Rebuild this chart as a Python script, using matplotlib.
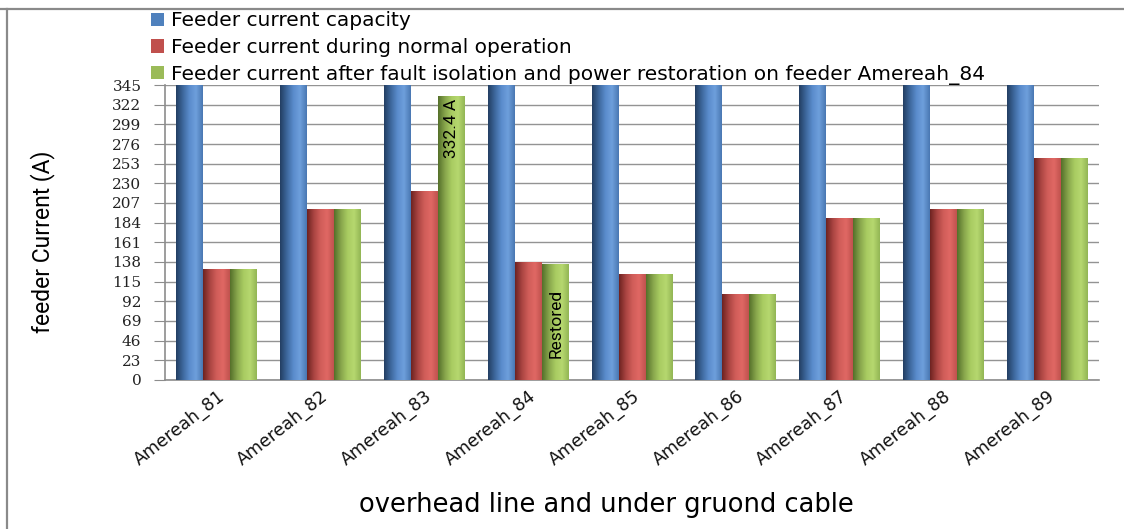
import matplotlib
matplotlib.use("Agg")
import matplotlib.pyplot as plt
import numpy as np
from matplotlib.colors import LinearSegmentedColormap
from matplotlib.patches import Patch
from matplotlib.lines import Line2D

feeders = ["Amereah_81", "Amereah_82", "Amereah_83", "Amereah_84", "Amereah_85",
           "Amereah_86", "Amereah_87", "Amereah_88", "Amereah_89"]
capacity = [345, 345, 345, 345, 345, 345, 345, 345, 345]
normal_op = [130, 200, 221, 138, 124, 100, 190, 200, 260]
after_restoration = [130, 200, 332.4, 136, 124, 100, 190, 200, 260]
y_ticks = list(range(0, 346, 23))

series_labels = ["Feeder current capacity",
                 "Feeder current during normal operation",
                 "Feeder current after fault isolation and power restoration on feeder Amereah_84"]
base_colors = ["#4f81bd", "#c0504d", "#9bbb59"]
gradients = [
    ["#233f63", "#3d679c", "#5a8ccc", "#6e9fdc", "#4a78b2"],
    ["#6e2321", "#a94441", "#d05d59", "#e06864", "#c0524e"],
    ["#55702a", "#86a44b", "#a8cb61", "#b6d86f", "#93b655"],
]

fig = plt.figure(figsize=(11.24, 5.29), dpi=100)
ax = fig.add_axes([0.1468, 0.2817, 0.8310, 0.5576])

x = np.arange(len(feeders))
w = 0.26
offsets = [-w, 0, w]
all_series = [capacity, normal_op, after_restoration]

for vals, off, grad, col in zip(all_series, offsets, gradients, base_colors):
    cmap = LinearSegmentedColormap.from_list("shade", grad)
    bars = ax.bar(x + off, vals, width=w, color=col, linewidth=0, zorder=3)
    gimg = np.linspace(0, 1, 64).reshape(1, -1)
    for b in bars:
        x0, bw, h = b.get_x(), b.get_width(), b.get_height()
        im = ax.imshow(gimg, cmap=cmap, aspect="auto", extent=(x0, x0 + bw, 0, h),
                       interpolation="bilinear", zorder=4)
        im.set_clip_path(b)

ax.set_xlim(-0.5, len(feeders) - 0.5)
ax.set_ylim(0, 345)
ax.set_yticks(y_ticks)
ax.set_yticklabels([str(t) for t in y_ticks], family="DejaVu Serif", fontsize=11, color="#222222")
ax.yaxis.grid(True, color="#939393", linewidth=1.0, zorder=0)
ax.set_axisbelow(True)
for s in ["top", "right"]:
    ax.spines[s].set_visible(False)
for s in ["left", "bottom"]:
    ax.spines[s].set_color("#8c8c8c")
    ax.spines[s].set_linewidth(1.2)
ax.tick_params(axis="y", length=8, color="#8c8c8c", pad=9)
ax.tick_params(axis="x", length=0, pad=5)

ax.set_xticks(x)
ax.set_xticklabels(feeders, rotation=38, ha="right", rotation_mode="anchor",
                   fontsize=12.5, family="DejaVu Sans", color="#111111")

ax.set_ylabel("feeder Current (A)", fontsize=16.5, family=["Roboto", "DejaVu Sans"])
ax.yaxis.set_label_coords(-0.118, 0.47)
ax.set_xlabel("overhead line and under gruond cable", fontsize=18.5, family="DejaVu Sans")
ax.xaxis.set_label_coords(0.473, -0.38)

# value notes inside the restored bars
ax.text(x[2] + w + 0.005, after_restoration[2] - 4, f"{after_restoration[2]} A", rotation=90,
        ha="center", va="top", fontsize=12.5, family=["Roboto", "DejaVu Sans"], zorder=6)
ax.text(x[3] + w + 0.005, 26, "Restored", rotation=90,
        ha="center", va="bottom", fontsize=12.5, family=["Roboto", "DejaVu Sans"], zorder=6)

handles = [Patch(facecolor=c, edgecolor="none") for c in base_colors]
fig.legend(handles, series_labels, loc="upper left", bbox_to_anchor=(0.121, 1.007),
           frameon=False, fontsize=14.5, handlelength=0.63, handleheight=0.63,
           handletextpad=0.35, labelspacing=0.38, borderpad=0.25)

# outer frame lines
fig.add_artist(Line2D([0, 1], [1 - 9 / 529, 1 - 9 / 529], transform=fig.transFigure,
                      color="#8a8a8a", linewidth=1.6))
fig.add_artist(Line2D([7 / 1124, 7 / 1124], [0, 1 - 9 / 529], transform=fig.transFigure,
                      color="#8a8a8a", linewidth=1.6))

fig.savefig("out.png", dpi=100)
